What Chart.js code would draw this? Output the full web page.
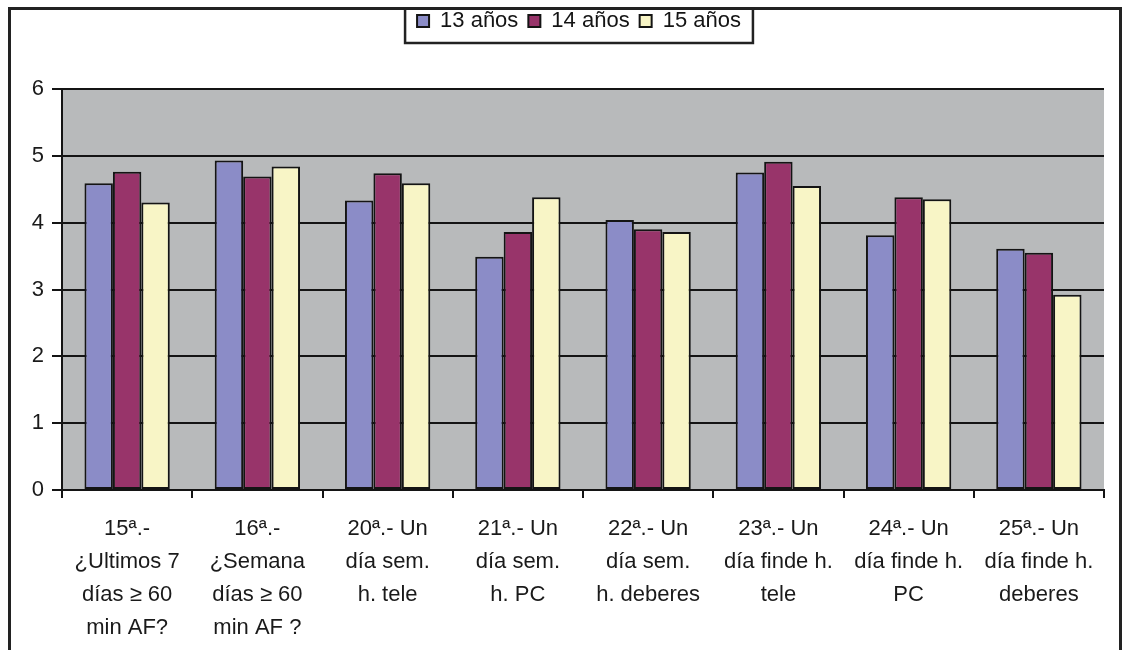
<!DOCTYPE html>
<html>
<head>
<meta charset="utf-8">
<script src="https://cdn.jsdelivr.net/npm/chart.js@4.4.1/dist/chart.umd.min.js"></script>
<style>
  html, body { margin: 0; padding: 0; background: #fff; }
  #wrap { width: 1127px; height: 650px; position: relative; }
</style>
</head>
<body>
<div id="wrap"><canvas id="chart"></canvas></div>
<script>
// categories (multi-line labels) and values
const categories = [
  ['15ª.-', '¿Ultimos 7', 'días ≥ 60', 'min AF?'],
  ['16ª.-', '¿Semana', 'días ≥ 60', 'min AF ?'],
  ['20ª.- Un', 'día sem.', 'h. tele'],
  ['21ª.- Un', 'día sem.', 'h. PC'],
  ['22ª.- Un', 'día sem.', 'h. deberes'],
  ['23ª.- Un', 'día finde h.', 'tele'],
  ['24ª.- Un', 'día finde h.', 'PC'],
  ['25ª.- Un', 'día finde h.', 'deberes'],
];
const seriesNames = ['13 años', '14 años', '15 años'];
const values13 = [4.59, 4.93, 4.33, 3.49, 4.04, 4.75, 3.81, 3.61];
const values14 = [4.76, 4.69, 4.74, 3.86, 3.90, 4.91, 4.38, 3.55];
const values15 = [4.30, 4.84, 4.59, 4.38, 3.86, 4.55, 4.35, 2.92];
const yMin = 0, yMax = 6, yStep = 1;

const LAVENDER = '#8b8cc7';
const PLUM = '#98346a';
const CREAM = '#f8f5c6';
const PLOT_BG = '#b8babb';
const INK = '#141414';
const FONT = 'Liberation Sans, Arial, sans-serif';

// grey plot area, outer frame and framed legend
const framePlugin = {
  id: 'frame',
  beforeInit(chart) {
    const fit = chart.legend.fit;
    chart.legend.fit = function () {
      fit.call(this);
      this.height = 89;
    };
  },
  afterLayout(chart) {
    // legend sits a little right of the canvas centre
    chart.legend.left += 20;
    chart.legend.right += 20;
  },
  beforeDraw(chart) {
    const { ctx, chartArea: a } = chart;
    ctx.save();
    ctx.fillStyle = PLOT_BG;
    ctx.fillRect(a.left, a.top, a.right - a.left, a.bottom - a.top);
    ctx.restore();
  },
  afterDraw(chart) {
    const ctx = chart.ctx;
    ctx.save();
    ctx.strokeStyle = '#222';
    ctx.lineWidth = 3;
    ctx.strokeRect(9.5, 8.5, 1111, 700);
    const boxes = chart.legend.legendHitBoxes || [];
    if (boxes.length) {
      const l = Math.min(...boxes.map(b => b.left)) - 12;
      const r = Math.max(...boxes.map(b => b.left + b.width)) + 12;
      const b = Math.max(...boxes.map(h => h.top + h.height)) + 11;
      ctx.lineWidth = 2.5;
      ctx.strokeRect(l, 8.5, r - l, b - 8.5);
    }
    ctx.restore();
  },
};

new Chart(document.getElementById('chart'), {
  type: 'bar',
  data: {
    labels: categories,
    datasets: [
      { label: seriesNames[0], data: values13, backgroundColor: LAVENDER },
      { label: seriesNames[1], data: values14, backgroundColor: PLUM },
      { label: seriesNames[2], data: values15, backgroundColor: CREAM },
    ].map(d => Object.assign(d, {
      borderColor: INK, borderWidth: 2, borderSkipped: false,
      categoryPercentage: 0.655, barPercentage: 1.0,
    })),
  },
  options: {
    responsive: true,
    maintainAspectRatio: false,
    animation: false,
    layout: { padding: { left: 14, right: 23, top: 0, bottom: 0 } },
    plugins: {
      tooltip: { enabled: false },
      legend: {
        position: 'top',
        labels: {
          color: INK, font: { family: FONT, size: 22 },
          boxWidth: 12, boxHeight: 12, padding: 10,
        },
      },
    },
    scales: {
      x: {
        afterFit(s) { s.height = 160; },
        grid: { offset: true, drawOnChartArea: false, color: INK, lineWidth: 2, tickLength: 8 },
        border: { color: INK, width: 2 },
        ticks: {
          color: '#1a1a1a', font: { family: FONT, size: 22, lineHeight: 1.5 },
          padding: 14, maxRotation: 0, autoSkip: false,
        },
      },
      y: {
        min: yMin, max: yMax,
        afterFit(s) { s.width = 48; },
        grid: { color: INK, lineWidth: 2, tickLength: 10 },
        border: { color: INK, width: 2 },
        ticks: { stepSize: yStep, color: '#1a1a1a', font: { family: FONT, size: 22 }, padding: 8 },
      },
    },
  },
  plugins: [framePlugin],
});
</script>
</body>
</html>
